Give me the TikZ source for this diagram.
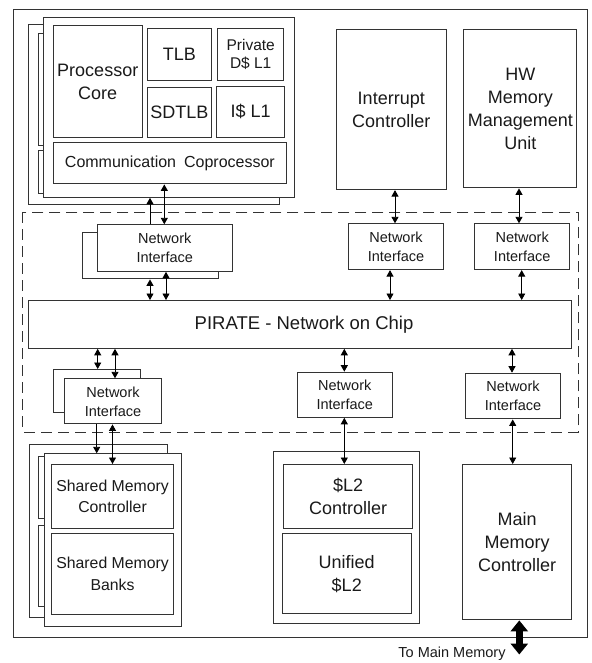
\documentclass[tikz,border=0pt]{standalone}
\usepackage{fontspec}
\setmainfont{Liberation Sans}
\usetikzlibrary{arrows.meta}
\definecolor{lc}{HTML}{333333}
\definecolor{tc}{HTML}{1A1A1A}
\newcommand\fsz[2]{\fontsize{#1}{#2}\selectfont}
\tikzset{
  blk/.style={draw=lc, line width=1.1pt, fill=white, inner sep=1pt, align=center,
              anchor=north west, text=tc, font=\fsz{18}{23}},
  nif/.style={blk, font=\fsz{14.5}{19}},
  dbl/.style={draw=black, line width=0.9pt, {Triangle[length=6.5pt,width=7pt]}-{Triangle[length=6.5pt,width=7pt]}},
  sgl/.style={draw=black, line width=0.9pt, -{Triangle[length=6.5pt,width=7pt]}},
  fat/.style={draw=black, line width=6.5pt, {Triangle[length=11pt,width=17pt]}-{Triangle[length=11pt,width=17pt]}},
}
\begin{document}
\begin{tikzpicture}[x=1pt,y=-1pt]
\useasboundingbox (0,0) rectangle (591,663);

% chip outline
\node[blk, minimum width=574, minimum height=628] (chip) at (13,9) {};

% network-on-chip region
\draw[lc, line width=1pt, dash pattern=on 11pt off 6pt] (22.7,212.3) rectangle (578.3,432);

% processor tile stack (copy behind, then the front tile)
\node[blk, minimum width=251, minimum height=179.7] (procB) at (28.3,24.3) {};
\node[blk, minimum width=89, minimum height=111.7] (coreB) at (37.7,33.3) {};
\node[blk, minimum width=233.3, minimum height=42.7] (commB) at (37.7,150) {};
\node[blk, minimum width=250.7, minimum height=180] (procF) at (43.3,16.7) {};
\node[blk, minimum width=89, minimum height=111.7] (core) at (52.7,25) {Processor\\Core};
\node[blk, minimum width=63.7, minimum height=52.3] (tlb) at (147,27.7) {TLB};
\node[blk, minimum width=66.3, minimum height=52.3, font=\fsz{15.5}{18.5}] (dl1) at (217,27.7) {Private\\D\$ L1};
\node[blk, minimum width=63.7, minimum height=49.4] (sdtlb) at (147,87.3) {SDTLB};
\node[blk, minimum width=68, minimum height=50.7] (il1) at (216,86) {I\$ L1};
\node[blk, minimum width=233.3, minimum height=41, font=\fsz{16}{20}] (comm) at (52.7,142.3) {Communication\hspace{0.5em}Coprocessor};

% interrupt controller and MMU
\node[blk, minimum width=110, minimum height=160] (intc) at (335.7,29) {Interrupt\\Controller};
\node[blk, minimum width=113, minimum height=158.3] (mmu) at (463.3,29) {HW\\Memory\\Management\\Unit};

% upper network interfaces
\node[nif, minimum width=136, minimum height=46] (ni1b) at (82.3,232.3) {};
\node[nif, minimum width=135, minimum height=46.4] (ni1) at (96.7,224.3) {Network\\Interface};
\node[nif, minimum width=95.6, minimum height=45.7] (ni2) at (347.7,223.3) {Network\\Interface};
\node[nif, minimum width=95.3, minimum height=45.7] (ni3) at (474,223.3) {Network\\Interface};

% the network on chip
\node[blk, minimum width=542.4, minimum height=47.7, font=\fsz{18.5}{23}] (noc) at (28.3,300) {\hspace{8pt}PIRATE - Network on Chip};

% lower network interfaces
\node[nif, minimum width=87.3, minimum height=42.7] (ni4b) at (52.7,369) {};
\node[nif, minimum width=96.4, minimum height=45] (ni4) at (64.3,378.3) {Network\\Interface};
\node[nif, minimum width=95, minimum height=45] (ni5) at (296.7,371.7) {Network\\Interface};
\node[nif, minimum width=95, minimum height=45.6] (ni6) at (465,372.7) {Network\\Interface};

% shared memory tile stack
\node[blk, minimum width=138, minimum height=172.7] (shB) at (29.3,444) {};
\node[blk, minimum width=122, minimum height=62.3] (smcB) at (37.7,456) {};
\node[blk, minimum width=122, minimum height=80.7] (smbB) at (37.7,525) {};
\node[blk, minimum width=136.4, minimum height=172.7] (shF) at (44.3,453.3) {};
\node[blk, minimum width=122, minimum height=63.7, font=\fsz{15.8}{21.7}] (smc) at (51,464) {Shared Memory\\Controller};
\node[blk, minimum width=122, minimum height=81, font=\fsz{15.8}{21.7}] (smb) at (51,532.7) {Shared Memory\\Banks};

% L2 tile
\node[blk, minimum width=146.3, minimum height=172.3] (l2) at (272.7,451) {};
\node[blk, minimum width=129.6, minimum height=63.7] (l2c) at (282.7,464) {\$L2\\Controller};
\node[blk, minimum width=129, minimum height=80] (l2u) at (281.7,533.3) {Unified\\\$L2};

% main memory controller
\node[blk, minimum width=108.4, minimum height=155.3] (mmc) at (462.3,464) {Main\\Memory\\Controller};

% off-chip link
\coordinate (mem) at (519.3,654.5);
\node[text=tc, font=\fsz{14.5}{17}] (memlbl) at (452,653.5) {To Main Memory};

% links
\draw[sgl] (ni1.north -| 150,0) -- (procF.south -| 150,0);
\draw[dbl] (comm.south -| 164.3,0) -- (ni1.north -| 164.3,0);
\draw[dbl] (ni1b.south -| 150,0) -- (noc.north -| 150,0);
\draw[dbl] (ni1.south -| 166,0) -- (noc.north -| 166,0);
\draw[dbl] (intc.south -| 395,0) -- (ni2.north -| 395,0);
\draw[dbl] (mmu.south -| 519,0) -- (ni3.north -| 519,0);
\draw[dbl] (ni2.south -| 390,0) -- (noc.north -| 390,0);
\draw[dbl] (ni3.south -| 521.7,0) -- (noc.north -| 521.7,0);
\draw[dbl] (noc.south -| 97.7,0) -- (ni4b.north -| 97.7,0);
\draw[dbl] (noc.south -| 115,0) -- (ni4.north -| 115,0);
\draw[dbl] (noc.south -| 344.3,0) -- (ni5.north -| 344.3,0);
\draw[dbl] (noc.south -| 512,0) -- (ni6.north -| 512,0);
\draw[sgl] (ni4.south -| 96.7,0) -- (shF.north -| 96.7,0);
\draw[dbl] (ni4.south -| 112.5,0) -- (smc.north -| 112.5,0);
\draw[dbl] (ni5.south -| 344.3,0) -- (l2c.north -| 344.3,0);
\draw[dbl] (ni6.south -| 512.7,0) -- (mmc.north -| 512.7,0);
\draw[fat] (mmc.south -| mem) -- (mem);
\end{tikzpicture}
\end{document}
